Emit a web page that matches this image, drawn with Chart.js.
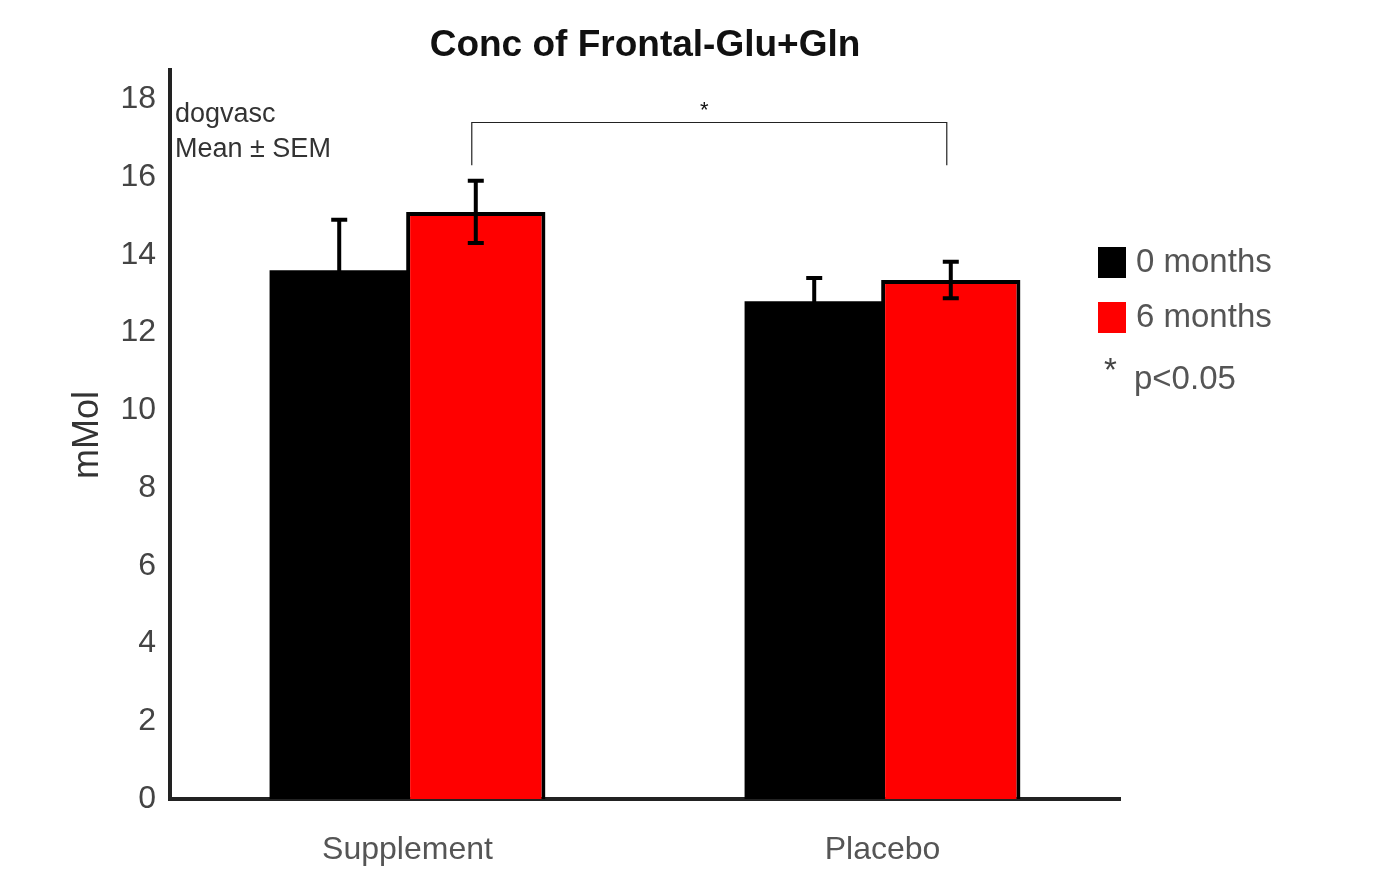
<!DOCTYPE html>
<html>
<head>
<meta charset="utf-8">
<title>Conc of Frontal-Glu+Gln</title>
<script src="https://cdn.jsdelivr.net/npm/chart.js@4/dist/chart.umd.min.js"></script>
<style>
  html, body { margin: 0; padding: 0; background: #fff; }
  #wrap { width: 1391px; height: 876px; }
</style>
</head>
<body>
<div id="wrap"><canvas id="chartGlx" width="1391" height="876"></canvas></div>
<script>
// data
const categories = ["Supplement", "Placebo"];
const seriesNames = ["0 months", "6 months"];
const month0 = [13.6, 12.8];
const month6 = [15.1, 13.35];
const month0Sem = [1.3, 0.6];
const month6Sem = [0.8, 0.47];
const yMax = 18.75;
const yStep = 2;
// significance bracket between the two 6-month bars
const bracket = { from: 0, to: 1, top: 17.4, foot: 16.3, label: "*" };

const FONT = "Arial, 'Liberation Sans', sans-serif";

const overlay = {
  id: "overlay",
  afterDatasetsDraw(chart) {
    const ctx = chart.ctx;
    const y = chart.scales.y;

    // error bars
    [month0Sem, month6Sem].forEach((sem, d) => {
      const meta = chart.getDatasetMeta(d);
      const vals = chart.data.datasets[d].data;
      meta.data.forEach((bar, i) => {
        const yt = y.getPixelForValue(vals[i] + sem[i]);
        const yb = y.getPixelForValue(vals[i] - sem[i]);
        ctx.save();
        ctx.strokeStyle = "#000";
        ctx.lineWidth = 4;
        ctx.beginPath();
        ctx.moveTo(bar.x, yt); ctx.lineTo(bar.x, yb);
        ctx.moveTo(bar.x - 8, yt); ctx.lineTo(bar.x + 8, yt);
        ctx.moveTo(bar.x - 8, yb); ctx.lineTo(bar.x + 8, yb);
        ctx.stroke();
        ctx.restore();
      });
    });

    // bracket
    const m6 = chart.getDatasetMeta(1).data;
    const x1 = m6[bracket.from].x - 4, x2 = m6[bracket.to].x - 4;
    const yTop = y.getPixelForValue(bracket.top);
    const yFoot = y.getPixelForValue(bracket.foot);
    ctx.save();
    ctx.strokeStyle = "#222";
    ctx.lineWidth = 1.2;
    ctx.beginPath();
    ctx.moveTo(x1, yFoot); ctx.lineTo(x1, yTop); ctx.lineTo(x2, yTop); ctx.lineTo(x2, yFoot);
    ctx.stroke();
    ctx.fillStyle = "#111";
    ctx.font = "22px " + FONT;
    ctx.textAlign = "center";
    ctx.textBaseline = "middle";
    ctx.fillText(bracket.label, (x1 + x2) / 2 - 5, yTop - 12);
    ctx.restore();
  },
  afterDraw(chart) {
    const ctx = chart.ctx;
    const a = chart.chartArea;
    ctx.save();

    // title
    ctx.fillStyle = "#111";
    ctx.font = "bold 37px " + FONT;
    ctx.textAlign = "center";
    ctx.textBaseline = "middle";
    ctx.fillText("Conc of Frontal-Glu+Gln", (a.left + a.right) / 2, 46);

    // notes
    ctx.fillStyle = "#333";
    ctx.font = "27px " + FONT;
    ctx.textAlign = "left";
    ctx.fillText("dogvasc", a.left + 5, 115);
    ctx.fillText("Mean \u00b1 SEM", a.left + 5, 150);

    // y title
    ctx.save();
    ctx.translate(88, 435);
    ctx.rotate(-Math.PI / 2);
    ctx.font = "36px " + FONT;
    ctx.fillStyle = "#333";
    ctx.textAlign = "center";
    ctx.fillText("mMol", 0, 0);
    ctx.restore();

    // legend
    const colors = ["#000000", "#ff0000"];
    ctx.font = "33px " + FONT;
    ctx.textAlign = "left";
    seriesNames.forEach((name, i) => {
      const top = 247 + i * 55;
      ctx.fillStyle = colors[i];
      ctx.fillRect(1098, top, 28, 31);
      ctx.fillStyle = "#555";
      ctx.fillText(name, 1136, top + 16);
    });
    ctx.fillStyle = "#444";
    ctx.fillText("*", 1104, 372);
    ctx.fillStyle = "#555";
    ctx.fillText("p<0.05", 1134, 380);

    ctx.restore();
  }
};

new Chart(document.getElementById("chartGlx"), {
  type: "bar",
  data: {
    labels: categories,
    datasets: [
      {
        label: seriesNames[0],
        data: month0,
        backgroundColor: "#000000",
        borderWidth: 0
      },
      {
        label: seriesNames[1],
        data: month6,
        backgroundColor: "#ff0000",
        borderColor: "#000000",
        borderWidth: 4,
        borderSkipped: "start"
      }
    ]
  },
  options: {
    responsive: false,
    animation: false,
    layout: { padding: { top: 70, right: 271, left: 0, bottom: 0 } },
    plugins: { legend: { display: false }, title: { display: false }, tooltip: { enabled: false } },
    datasets: { bar: { categoryPercentage: 0.575, barPercentage: 1.02 } },
    scales: {
      x: {
        grid: { display: false, drawTicks: false },
        border: { display: true, color: "#222", width: 4 },
        ticks: { color: "#555", font: { family: FONT, size: 32 }, padding: 32 },
        afterFit(scale) { scale.height = 77; }
      },
      y: {
        min: 0,
        max: yMax,
        grid: { display: false, drawTicks: false },
        border: { display: true, color: "#222", width: 4 },
        ticks: { stepSize: yStep, includeBounds: false, color: "#444", font: { family: FONT, size: 32 }, padding: 14 },
        afterFit(scale) { scale.width = 170; }
      }
    }
  },
  plugins: [overlay]
});
</script>
</body>
</html>
